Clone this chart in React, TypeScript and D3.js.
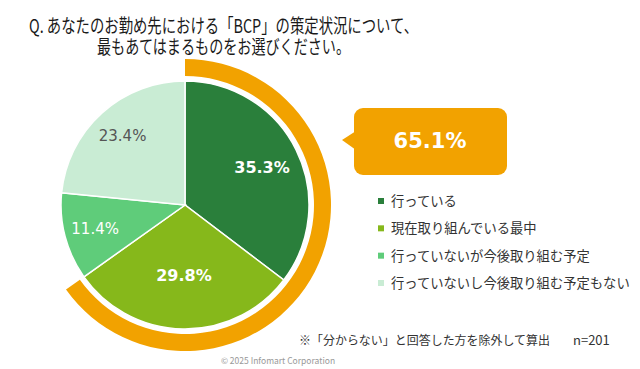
import React from "react";
import * as d3 from "d3";

const categories = [
  "行っている",
  "現在取り組んでいる最中",
  "行っていないが今後取り組む予定",
  "行っていないし今後取り組む予定もない",
];
const values = [35.3, 29.8, 11.4, 23.4];
const labelText = ["35.3%", "29.8%", "11.4%", "23.4%"];
const highlightValue = 65.1;
const highlightLabel = "65.1%";

const colors = ["#2a7f3b", "#86b81b", "#5fcc7a", "#c9ecd4"];
const labelColors = ["#ffffff", "#ffffff", "#ffffff", "#555555"];
const labelBold = [true, true, false, false];
const labelSize = [16, 16, 15, 15];
const labelRadius = [86, 70, 93, 93];
const ORANGE = "#f2a200";

export default function App() {
  const W = 640, H = 369;
  const cx = 185, cy = 205, r = 124;
  const total = d3.sum(values);
  const pie = d3.pie<number>().sort(null).value((d) => d);
  const arcs = pie(values);
  const arcGen = d3.arc<d3.PieArcDatum<number>>().innerRadius(0).outerRadius(r);
  const ringAngle = d3.scaleLinear().domain([0, total]).range([0, 2 * Math.PI]);
  const ringPath = d3.arc()({
    innerRadius: 129,
    outerRadius: 146,
    startAngle: 0,
    endAngle: ringAngle(highlightValue),
  } as any) as string;

  const legendY = d3.scalePoint<string>().domain(categories).range([201, 283]);
  const font = "'Noto Sans CJK JP', 'Noto Sans', sans-serif";
  const numFont = "'DejaVu Sans', Verdana, sans-serif";

  return (
    <svg width={W} height={H} style={{ position: "absolute", left: 0, top: 0, background: "#fff" }}>
      <g fontFamily={font} fill="#1a1a1a">
        <text x={29} y={33} fontSize={19} textLength={389} lengthAdjust="spacingAndGlyphs">
          Q. あなたのお勤め先における「BCP」の策定状況について、
        </text>
        <text x={97} y={54} fontSize={19} textLength={253} lengthAdjust="spacingAndGlyphs">
          最もあてはまるものをお選びください。
        </text>
      </g>
      <g transform={`translate(${cx},${cy})`}>
        <path d={ringPath} fill={ORANGE} />
        {arcs.map((a, i) => (
          <path key={i} d={arcGen(a) as string} fill={colors[i]} stroke="#fff" strokeWidth={1.5} />
        ))}
        {arcs.map((a, i) => {
          const m = (a.startAngle + a.endAngle) / 2;
          const x = Math.sin(m) * labelRadius[i];
          const y = -Math.cos(m) * labelRadius[i];
          return (
            <text
              key={i}
              x={x}
              y={y}
              dy="0.36em"
              textAnchor="middle"
              fontFamily={numFont}
              fontSize={labelSize[i]}
              fontWeight={labelBold[i] ? "bold" : "normal"}
              fill={labelColors[i]}
            >
              {labelText[i]}
            </text>
          );
        })}
      </g>
      <g>
        <path d="M342,140 L356,131 L356,150 Z" fill={ORANGE} />
        <rect x={354} y={108} width={153} height={67} rx={9} fill={ORANGE} />
        <text x={430} y={148} textAnchor="middle" fontFamily={numFont} fontWeight="bold" fontSize={21} fill="#fff">
          {highlightLabel}
        </text>
      </g>
      <g fontFamily={font} fontSize={13.3} fill="#333">
        {categories.map((c, i) => (
          <g key={c}>
            <rect x={378} y={(legendY(c) as number) - 3} width={6} height={6} fill={colors[i]} />
            <text x={391} y={(legendY(c) as number) + 5}>{c}</text>
          </g>
        ))}
      </g>
      <g fontFamily={font} fill="#333">
        <text x={299} y={345} fontSize={12} textLength={251} lengthAdjust="spacingAndGlyphs">
          ※「分からない」と回答した方を除外して算出
        </text>
        <text x={573} y={345} fontSize={13}>n=201</text>
        <text x={278} y={364} fontSize={8.5} textAnchor="middle" fill="#999">
          © 2025 Infomart Corporation
        </text>
      </g>
    </svg>
  );
}
